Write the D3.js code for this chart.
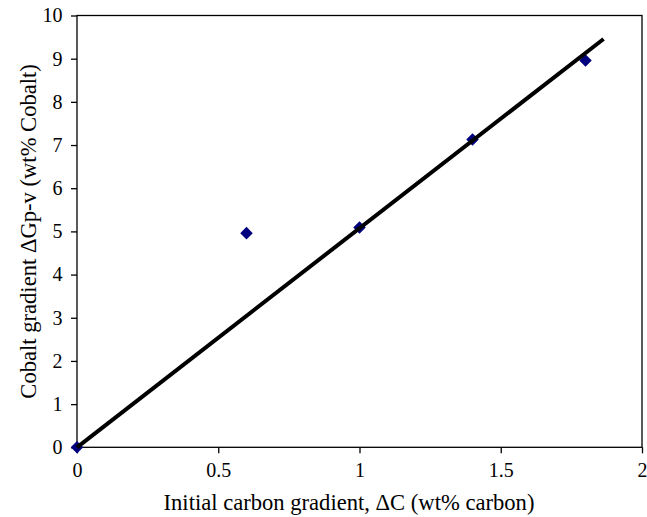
<!DOCTYPE html>
<html><head><meta charset="utf-8">
<script src="https://cdn.jsdelivr.net/npm/d3@7"></script>
<style>body{margin:0;background:#fff}svg{display:block}</style>
</head><body><svg id="c" width="647" height="517"></svg>
<script>
const xValues = [0, 0.6, 1.0, 1.4, 1.8];
const yValues = [0, 4.96, 5.09, 7.13, 8.96];
const fitX = [0, 1.864];
const fitY = [0, 9.456];
const xTicks = [0, 0.5, 1, 1.5, 2];
const yTicks = [0,1,2,3,4,5,6,7,8,9,10];
const xTitle = "Initial carbon gradient, ΔC (wt% carbon)";
const yTitle = "Cobalt gradient ΔGp-v (wt% Cobalt)";

const FF = "Liberation Serif, Times New Roman, DejaVu Serif, serif";
const svg = d3.select("#c");
const L=77, R=642, T=15.5, B=447.3;
const x = d3.scaleLinear().domain([0,2]).range([L,R]);
const y = d3.scaleLinear().domain([0,10]).range([B,T]);

svg.append("rect").attr("x",L).attr("y",T).attr("width",R-L).attr("height",B-T)
  .attr("fill","none").attr("stroke","#000").attr("stroke-width",1.3);

const xa = svg.append("g").attr("transform",`translate(0,${B})`)
  .call(d3.axisBottom(x).tickValues(xTicks).tickSize(6).tickPadding(9.5).tickFormat(d=>String(d)));
const ya = svg.append("g").attr("transform",`translate(${L},0)`)
  .call(d3.axisLeft(y).tickValues(yTicks).tickSize(6).tickPadding(8.5).tickFormat(d=>String(d)));
[xa,ya].forEach(a=>{
  a.attr("font-family",FF).attr("font-size",20);
  a.select(".domain").remove();
  a.selectAll("line").attr("stroke","#000").attr("stroke-width",1.3);
  a.selectAll("text").attr("fill","#000");
});

svg.append("text").attr("x",349).attr("y",510).attr("text-anchor","middle")
  .attr("font-family",FF).attr("font-size",22.6).attr("fill","#000").text(xTitle);
svg.append("text").attr("transform",`translate(36,${(T+B)/2}) rotate(-90)`).attr("text-anchor","middle")
  .attr("font-family",FF).attr("font-size",22.6).attr("fill","#000").text(yTitle);

const sym = d3.symbol().type(d3.symbolDiamond2).size(100);
svg.append("g").selectAll("path").data(xValues).join("path")
  .attr("d",sym)
  .attr("transform",(d,i)=>`translate(${x(d)},${y(yValues[i])})`)
  .attr("fill","#00007f");

svg.append("path").datum(fitX.map((d,i)=>[d,fitY[i]]))
  .attr("d",d3.line().x(d=>x(d[0])).y(d=>y(d[1])))
  .attr("stroke","#000").attr("stroke-width",4).attr("fill","none");
</script></body></html>
